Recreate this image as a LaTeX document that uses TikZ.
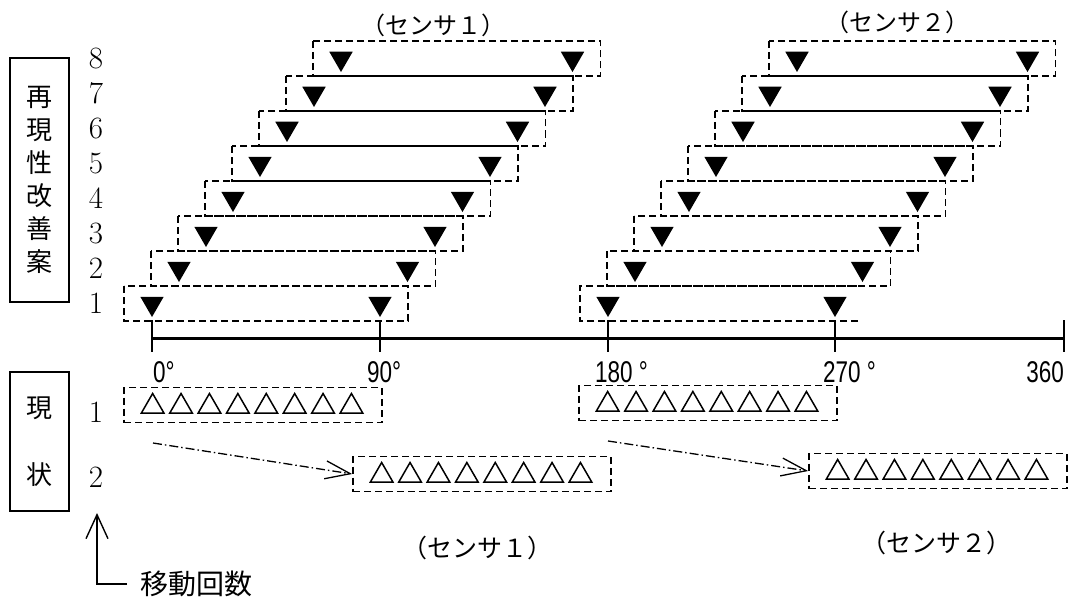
\documentclass[tikz,border=0pt]{standalone}
\usepackage{fontspec}
\newfontfamily\jpfont{Noto Sans CJK JP}
\newfontfamily\axfont[FakeStretch=0.75]{Liberation Sans}
\usetikzlibrary{shapes.geometric, arrows.meta, positioning, calc}

\begin{document}
\begin{tikzpicture}[
  x=1pt, y=-1pt,
  dbox/.style={draw, line width=1.7pt, dash pattern=on 7pt off 4pt},
  nowbox/.style={dbox, minimum width=258pt, minimum height=35pt, inner sep=0pt},
  vbox/.style={draw, line width=1.4pt, minimum width=59pt, inner sep=0pt, align=center},
  downtri/.style={regular polygon, regular polygon sides=3, shape border rotate=180, fill=black, inner sep=0pt, minimum size=27pt},
  uptri/.style={regular polygon, regular polygon sides=3, draw, line width=1.5pt, inner sep=0pt, minimum size=26pt},
  numlabel/.style={font=\fontsize{31}{31}\selectfont},
  senlabel/.style={font=\jpfont\fontsize{24}{24}\selectfont},
  alabel/.style={font=\axfont\fontsize{30}{30}\selectfont, inner sep=0pt},
  arrowline/.style={line width=1.3pt, dash pattern=on 9pt off 3pt on 1.5pt off 3pt, -{Straight Barb[length=25pt, width=18pt, line width=1.3pt]}},
  tickline/.style={line width=1.6pt}
]
  \useasboundingbox (0,0) rectangle (1073,599);

  % side labels
  \node[vbox, minimum height=244pt, font=\jpfont\fontsize{26}{33}\selectfont] (kaizen) at (39.5,180) {再\\現\\性\\改\\善\\案};
  \node[vbox, minimum height=139pt, font=\jpfont\fontsize{26}{67}\selectfont] (genjo) at (39.5,441.5) {現\\状};

  % improved layout: 8 moves, two sensors
  \foreach \s/\xa/\xb in {1/152/380, 2/608/835} {
    \foreach \k in {1,...,8} {
      \pgfmathsetmacro{\yk}{303.5-35*(\k-1)}
      \pgfmathsetmacro{\xl}{\xa+27*(\k-1)}
      \pgfmathsetmacro{\xr}{\xb+27.5*(\k-1)}
      \node[downtri] (s\s l\k) at (\xl,\yk) {};
      \node[downtri] (s\s r\k) at (\xr,\yk) {};
      \ifnum\s\k=21
        \draw[dbox] ($(s\s r\k)+(23,17.5)$) -| ($(s\s l\k)+(-28,-17.5)$) -- ($(s\s r\k)+(28,-17.5)$);
      \else
        \draw[dbox] ($(s\s l\k)+(-28,-17.5)$) rectangle ($(s\s r\k)+(28,17.5)$);
      \fi
    }
  }
  \foreach \k in {1,...,8}
    \node[numlabel] (row\k) at (96,303.5-35*\k+35) {\k};

  \node[senlabel] (sen1top) at (433,25) {（センサ１）};
  \node[senlabel] (sen2top) at (897,22) {（センサ２）};

  % angle axis
  \draw[line width=3pt] (152,338) -- (1064,338);
  \foreach \x in {152,380,608,835,1064}
    \draw[tickline] (\x,320) -- (\x,352);
  \node[alabel, anchor=west] (deg0) at (153,372) {0°};
  \node[alabel, anchor=west] (deg90) at (367,372) {90°};
  \node[alabel, anchor=west] (deg180) at (595,372) {180 °};
  \node[alabel, anchor=west] (deg270) at (823,372) {270 °};
  \node[alabel, anchor=east] (deg360) at (1064,372) {360};

  % present layout
  \node[numlabel] (now1) at (96,412) {1};
  \node[numlabel] (now2) at (96,477) {2};
  \node[nowbox] (n1a) at (253,405) {};
  \node[nowbox] (n1b) at (708,403) {};
  \node[nowbox] (n2a) at (482,474) {};
  \node[nowbox] (n2b) at (938,471) {};
  \foreach \b in {n1a,n1b,n2a,n2b}
    \foreach \i in {1,...,8}
      \node[uptri] (\b t\i) at ($(\b.west)+(29.5+28.4*\i-28.4,1.5)$) {};

  \coordinate (from1) at (153,443);
  \coordinate (from2) at (608,441);
  \draw[arrowline] (from1) -- (n2a.west);
  \draw[arrowline] (from2) -- (n2b.west);

  \node[senlabel, font=\jpfont\fontsize{25}{25}\selectfont] (sen1) at (477,548) {（センサ１）};
  \node[senlabel, font=\jpfont\fontsize{25}{25}\selectfont] (sen2) at (936,543) {（センサ２）};

  % move count
  \node[font=\jpfont\fontsize{28}{28}\selectfont, anchor=west, inner sep=0pt] (count) at (140,584) {移動回数};
  \coordinate (countup) at (97,513);
  \draw[line width=1.4pt, -{Straight Barb[length=24pt, width=22pt, line width=1.4pt]}] ([xshift=-13pt]count.west) -| (countup);
\end{tikzpicture}
\end{document}
